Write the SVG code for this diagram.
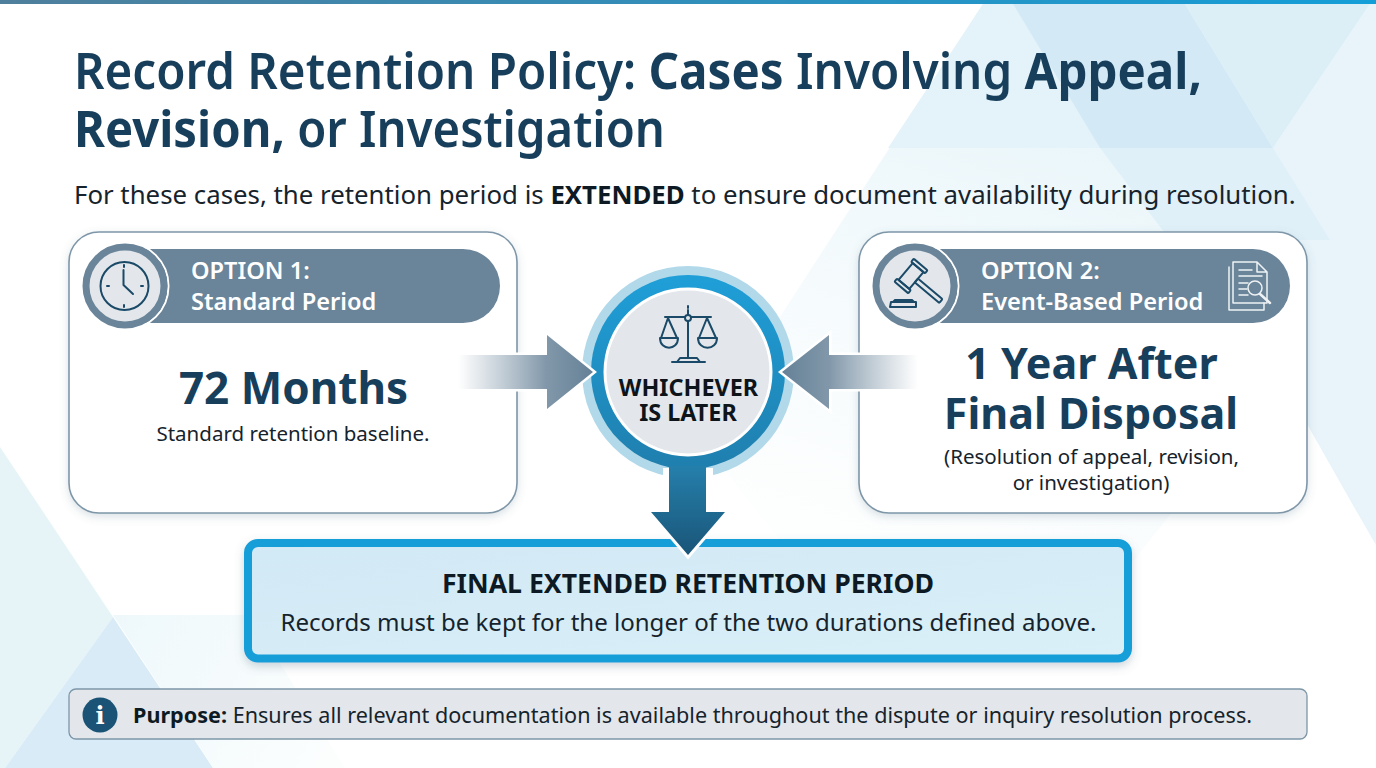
<svg xmlns="http://www.w3.org/2000/svg" width="1376" height="768" viewBox="0 0 1376 768">
<style>
text{font-family:"Noto Sans","Open Sans","Liberation Sans",sans-serif}
.title{font-size:50px;font-weight:600;fill:#173f5c}
.b{font-weight:700}
.card{fill:#fff;stroke:#7d96a8;stroke-width:1.6;filter:url(#sh)}
.band{fill:#6a8499}
.badge{fill:#e3e7eb;stroke:#6a8499;stroke-width:7}
.badgeo{fill:none;stroke:#fff;stroke-width:2}
.opt{font-size:23.600px;font-weight:600;fill:#fff}
.ic{fill:none;stroke:#1a4a68;stroke-width:2;stroke-linecap:round;stroke-linejoin:round}
.icw{fill:none;stroke:#eef2f5;stroke-width:1.500;stroke-linecap:round;stroke-linejoin:round}
.big{font-weight:700;font-size:43px;fill:#173f5c;text-anchor:middle}
.sub{font-size:20.500px;fill:#16232c;text-anchor:middle}
</style>
<defs>
<linearGradient id="bar" x1="0" x2="1" y1="0" y2="0"><stop offset="0" stop-color="#4f7f9c"/><stop offset="1" stop-color="#149ed8"/></linearGradient>
<linearGradient id="ar1" gradientUnits="userSpaceOnUse" x1="458" x2="593" y1="0" y2="0"><stop offset="0" stop-color="#8da2b2" stop-opacity="0"/><stop offset=".65" stop-color="#8298aa"/><stop offset="1" stop-color="#658197"/></linearGradient>
<linearGradient id="ar2" gradientUnits="userSpaceOnUse" x1="918" x2="782" y1="0" y2="0"><stop offset="0" stop-color="#8da2b2" stop-opacity="0"/><stop offset=".65" stop-color="#8298aa"/><stop offset="1" stop-color="#658197"/></linearGradient>
<linearGradient id="ar3" gradientUnits="userSpaceOnUse" x1="0" x2="0" y1="465" y2="555"><stop offset="0" stop-color="#2580ac"/><stop offset="1" stop-color="#1a5578"/></linearGradient>
<linearGradient id="ring" x1="0" x2="0" y1="0" y2="1"><stop offset="0" stop-color="#1f9fd8"/><stop offset="1" stop-color="#1f7fae"/></linearGradient>
<linearGradient id="pale" gradientUnits="userSpaceOnUse" x1="1100" y1="130" x2="950" y2="570"><stop offset="0" stop-color="#eaf6fa"/><stop offset=".55" stop-color="#f6fbfd"/><stop offset="1" stop-color="#fdfefe"/></linearGradient>
<linearGradient id="pale2" gradientUnits="userSpaceOnUse" x1="113" y1="620" x2="340" y2="740"><stop offset="0" stop-color="#eef8fb"/><stop offset="1" stop-color="#fcfefe"/></linearGradient>
<linearGradient id="boxf" x1="0" x2="1" y1="0" y2="1"><stop offset="0" stop-color="#d2e9f6"/><stop offset="1" stop-color="#d9f0f8"/></linearGradient>
<filter id="sh" x="-5%" y="-5%" width="110%" height="112%"><feDropShadow dx="0" dy="3" stdDeviation="4" flood-color="#587488" flood-opacity=".22"/></filter>
<filter id="sh2" x="-5%" y="-10%" width="110%" height="125%"><feDropShadow dx="0" dy="4" stdDeviation="5" flood-color="#587488" flood-opacity=".3"/></filter>
</defs>
<g id="background">
<rect width="1376" height="768" fill="#fff"/>
<polygon points="983,4 1200,4 1330,240 1170,515 1130,565 800,565 700,440" fill="url(#pale)"/>
<polygon points="1370,4 1376,4 1376,545 1350,500 1285,385 1273,148" fill="#e8f4fa"/>
<polygon points="983,4 1013,4 1100,148 888,148" fill="#e4f3f9"/>
<polygon points="1013,4 1185,4 1273,148 1100,148" fill="#d3eaf6"/>
<polygon points="1100,148 1273,148 1330,240 1170,240" fill="#e0f0f8"/>
<polygon points="1185,4 1370,4 1273,148" fill="#dceff7"/>
<polygon points="0,447 113,617 5,768 0,768" fill="#e6f4f8"/>
<polygon points="113,617 213,768 5,768" fill="#d8ebf6"/>
<polygon points="113,615 250,615 345,768 213,768" fill="url(#pale2)"/>
<rect width="1376" height="4" fill="url(#bar)"/>
</g>
<g id="heading">
<text class="title" x="74" y="89" textLength="1128" lengthAdjust="spacingAndGlyphs">Record Retention Policy: <tspan class="b">Cases</tspan> Involving <tspan class="b">Appeal,</tspan></text>
<text class="title" x="74" y="147" textLength="591" lengthAdjust="spacingAndGlyphs"><tspan class="b">Revision,</tspan> or Investigation</text>
<text x="74" y="204" font-size="25.800" fill="#16232c">For these cases, the retention period is <tspan font-weight="700" fill="#0d1a24">EXTENDED</tspan> to ensure document availability during resolution.</text>
</g>
<g id="option-1">
<rect class="card" x="69" y="232" width="448" height="281" rx="30"/>
<path class="band" d="M122 249H463a37 37 0 0 1 0 74H122z"/>
<circle class="badgeo" cx="125" cy="286" r="43.500"/>
<circle class="badge" cx="125" cy="286" r="39"/>
<circle class="ic" cx="124.500" cy="286" r="24"/>
<path class="ic" d="M123.500 270V285L133 294M124 265v2M124 305v2M107 286h2M141 286h2"/>
<text class="opt" x="191" y="279">OPTION 1:</text>
<text class="opt" x="191" y="310">Standard Period</text>
<text class="big" x="293.500" y="404" style="font-size:44px">72 Months</text>
<text class="sub" x="293" y="441">Standard retention baseline.</text>
</g>
<g id="option-2">
<rect class="card" x="859" y="232" width="448" height="281" rx="30"/>
<path class="band" d="M912 249H1253a37 37 0 0 1 0 74H912z"/>
<circle class="badgeo" cx="915" cy="286" r="43.500"/>
<circle class="badge" cx="915" cy="286" r="39"/>
<g class="ic">
<g transform="translate(911 276) rotate(40)">
<rect x="-7" y="-11" width="14" height="22"/>
<rect x="-9" y="-15" width="18" height="4" rx="1"/>
<rect x="-9" y="11" width="18" height="4" rx="1"/>
<rect x="7" y="-2.500" width="32" height="5" rx="1"/>
</g>
<path d="M895 300H912L914 302H893zM891 302H916V307H890z"/>
</g>
<g class="icw">
<path d="M1233 262H1257L1267 272V303H1233zM1257 262V272H1267"/>
<path d="M1229 267V310H1264V303"/>
<path d="M1239 270H1252M1239 276H1262M1239 283H1248M1239 289H1247M1239 295H1248"/>
<circle cx="1255" cy="288" r="7"/>
<path d="M1260 294L1270 303" stroke-width="2.500"/>
</g>
<text class="opt" x="981" y="279">OPTION 2:</text>
<text class="opt" x="981" y="310">Event-Based Period</text>
<text class="big" x="1091.500" y="379">1 Year After</text>
<text class="big" x="1091" y="429">Final Disposal</text>
<text class="sub" x="1091.500" y="464">(Resolution of appeal, revision,</text>
<text class="sub" x="1091" y="490">or investigation)</text>
</g>
<g id="decision">
<circle cx="688" cy="372" r="106" fill="#b2d9ea"/>
<rect x="663" y="468" width="50" height="14" fill="#fff"/>
<circle cx="688" cy="372" r="97" fill="url(#ring)"/>
<circle cx="688" cy="372" r="83" fill="#e3e7eb" stroke="#fff" stroke-width="3"/>
<g class="ic">
<path d="M688 310V358M688 308v-2M665 317H711M668 318L661 338M668 318L677 338M707 318L699 338M707 318L716 338M672 362H705M680 358H697L700 362H677z"/>
<circle cx="688" cy="318" r="3" fill="#e3e7eb"/>
<path d="M660 338H678C678 351 660 351 660 338zM698 338H717C717 351 698 351 698 338z"/>
</g>
<text x="688.500" y="396" font-size="23.400" font-weight="700" fill="#0d151b" text-anchor="middle">WHICHEVER</text>
<text x="688" y="421" font-size="23.400" font-weight="700" fill="#0d151b" text-anchor="middle">IS LATER</text>
</g>
<g id="result">
<rect x="248" y="543" width="880" height="115.500" rx="10" fill="url(#boxf)" stroke="#149ed8" stroke-width="8" filter="url(#sh2)"/>
<text x="688" y="593" font-size="26.500" font-weight="700" fill="#0d1a24" text-anchor="middle" textLength="492" lengthAdjust="spacingAndGlyphs">FINAL EXTENDED RETENTION PERIOD</text>
<text x="688.500" y="631" font-size="24.050" fill="#16232c" text-anchor="middle">Records must be kept for the longer of the two durations defined above.</text>
</g>
<g id="connectors">
<path d="M458 355H547V335L593 372L547 409V389H458z" fill="#fff" stroke="#fff" stroke-width="5"/>
<path d="M458 355H547V335L593 372L547 409V389H458z" fill="url(#ar1)"/>
<path d="M918 355H829V335L782 372L829 409V389H918z" fill="#fff" stroke="#fff" stroke-width="5"/>
<path d="M918 355H829V335L782 372L829 409V389H918z" fill="url(#ar2)"/>
<path d="M651 512L688 555L725 512" fill="none" stroke="#fff" stroke-width="6"/>
<path d="M669 466H706V512H725L688 555L651 512H669z" fill="url(#ar3)"/>
</g>
<g id="purpose">
<rect x="69" y="689" width="1238" height="50" rx="7" fill="#e3e7eb" stroke="#7d96a8" stroke-width="1.300"/>
<circle cx="100" cy="715" r="17.500" fill="#1a5375"/>
<text x="100" y="724" font-size="24" font-weight="700" fill="#fff" text-anchor="middle" style="font-family:'DejaVu Serif',serif">i</text>
<text x="133" y="723" font-size="21.600" fill="#16232c"><tspan font-weight="700" fill="#0d1a24">Purpose:</tspan> Ensures all relevant documentation is available throughout the dispute or inquiry resolution process.</text>
</g>
</svg>
